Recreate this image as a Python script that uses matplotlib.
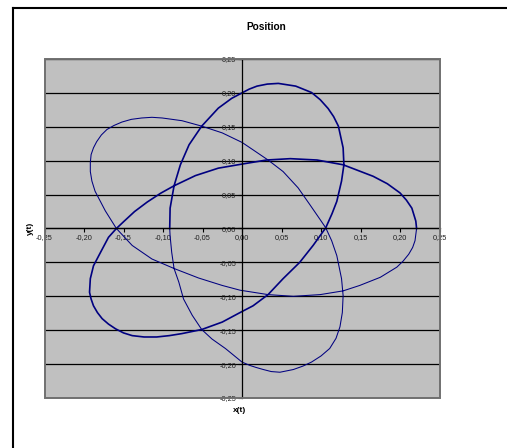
import matplotlib
matplotlib.use("Agg")
import matplotlib.pyplot as plt
from matplotlib.lines import Line2D
from matplotlib.patches import Rectangle
from matplotlib.ticker import FuncFormatter, MultipleLocator

plt.rcParams['font.family'] = ['Liberation Sans', 'DejaVu Sans']

# trajectory, first half (drawn heavier)
x_a = [-0.0915, -0.091, -0.086, -0.078, -0.067, -0.051, -0.030, -0.013, 0.000, 0.009,
       0.019, 0.032, 0.046, 0.068, 0.088, 0.099, 0.109, 0.116, 0.122, 0.128,
       0.129, 0.126, 0.120, 0.114, 0.106, 0.098, 0.090, 0.073, 0.052, 0.033,
       0.014, -0.0025, -0.025, -0.051, -0.076, -0.092, -0.108, -0.124, -0.139, -0.150,
       -0.160, -0.169, -0.177, -0.183, -0.188, -0.191, -0.193, -0.192, -0.188, -0.179,
       -0.169, -0.159, -0.149, -0.136, -0.120, -0.103, -0.086, -0.059, -0.030, 0.000,
       0.031, 0.061, 0.095, 0.128, 0.166, 0.184, 0.200, 0.208, 0.215, 0.220,
       0.221]
y_a = [0.000, 0.030, 0.063, 0.094, 0.1235, 0.151, 0.1775, 0.192, 0.200, 0.2055,
       0.210, 0.213, 0.214, 0.210, 0.2006, 0.190, 0.177, 0.165, 0.151, 0.119,
       0.094, 0.070, 0.040, 0.022, 0.001, -0.012, -0.025, -0.050, -0.074, -0.0975,
       -0.114, -0.124, -0.138, -0.149, -0.155, -0.158, -0.160, -0.160, -0.158, -0.154,
       -0.148, -0.141, -0.133, -0.124, -0.114, -0.104, -0.094, -0.074, -0.055, -0.035,
       -0.013, 0.000, 0.011, 0.025, 0.039, 0.052, 0.063, 0.078, 0.089, 0.095,
       0.101, 0.103, 0.101, 0.094, 0.077, 0.066, 0.0525, 0.042, 0.030, 0.011,
       0.000]

# second half (thin line)
x_b = [0.221, 0.219, 0.216, 0.211, 0.204, 0.196, 0.175, 0.149, 0.128, 0.099,
       0.065, 0.033, -0.0025, -0.025, -0.055, -0.086, -0.114, -0.139, -0.159, -0.173,
       -0.186, -0.190, -0.192, -0.192, -0.191, -0.188, -0.184, -0.178, -0.171, -0.162,
       -0.152, -0.140, -0.127, -0.114, -0.101, -0.076, -0.051, -0.025, 0.000, 0.014,
       0.033, 0.052, 0.071, 0.086, 0.099, 0.106, 0.1135, 0.120, 0.126, 0.128,
       0.127, 0.124, 0.119, 0.111, 0.100, 0.088, 0.077, 0.065, 0.048, 0.037,
       0.027, 0.018, 0.010, 0.000, -0.021, -0.038, -0.051, -0.063, -0.074, -0.080,
       -0.086, -0.089, -0.091, -0.0915]
y_b = [0.000, -0.018, -0.028, -0.038, -0.048, -0.057, -0.072, -0.084, -0.092, -0.0975,
       -0.100, -0.0975, -0.091, -0.084, -0.073, -0.059, -0.045, -0.025, 0.000, 0.026,
       0.055, 0.070, 0.084, 0.097, 0.109, 0.119, 0.128, 0.138, 0.146, 0.152,
       0.157, 0.161, 0.163, 0.164, 0.163, 0.159, 0.151, 0.141, 0.127, 0.116,
       0.101, 0.084, 0.060, 0.035, 0.013, 0.001, -0.018, -0.040, -0.074, -0.099,
       -0.124, -0.145, -0.162, -0.177, -0.188, -0.197, -0.203, -0.208, -0.212, -0.211,
       -0.208, -0.205, -0.202, -0.197, -0.177, -0.163, -0.149, -0.128, -0.104, -0.079,
       -0.059, -0.035, -0.011, 0.000]

W, H = 507, 448
fig = plt.figure(figsize=(W / 100, H / 100), dpi=100)

# chart area border (only top and left edges are inside the picture)
fig.add_artist(Line2D([13 / W, 1.0], [1 - 8 / H, 1 - 8 / H], color='black', lw=1.5))
fig.add_artist(Line2D([13 / W, 13 / W], [1 - 8 / H, 0.0], color='black', lw=1.5))

ax = fig.add_axes([44.5 / W, 1 - 398 / H, 395 / W, 339 / H])
ax.set_facecolor('#c0c0c0')
ax.set_xlim(-0.25, 0.25)
ax.set_ylim(-0.25, 0.25)

ax.xaxis.set_major_locator(MultipleLocator(0.05))
ax.yaxis.set_major_locator(MultipleLocator(0.05))
fmt = FuncFormatter(lambda v, p: f"{v:.2f}".replace('.', ',').replace('-0,00', '0,00'))
ax.xaxis.set_major_formatter(fmt)
ax.yaxis.set_major_formatter(fmt)

ax.yaxis.grid(True, color='black', lw=0.9)
ax.set_axisbelow(True)

for s in ('top', 'right'):
    ax.spines[s].set_visible(False)
ax.spines['left'].set_position(('data', 0))
ax.spines['bottom'].set_position(('data', 0))
ax.spines['left'].set_linewidth(0.9)
ax.spines['bottom'].set_linewidth(0.9)
ax.tick_params(direction='out', length=3, width=0.8, labelsize=5.3,
               labelcolor='#202020', pad=1)

ax.add_patch(Rectangle((0, 0), 1, 1, transform=ax.transAxes, fill=False,
                       edgecolor='#707070', lw=1.4, zorder=5, clip_on=False))

ax.plot(x_a, y_a, color='#000080', lw=1.2, solid_joinstyle='round')
ax.plot(x_b, y_b, color='#000080', lw=0.75, solid_joinstyle='round')

fig.text(266 / W, 1 - 27 / H, 'Position', ha='center', va='center',
         fontsize=7.3, fontweight='bold')
fig.text(240 / W, 1 - 410 / H, 'x(t)', ha='center', va='center',
         fontsize=6, fontweight='bold')
fig.text(30 / W, 1 - 228 / H, 'y(t)', ha='center', va='center',
         fontsize=6, fontweight='bold', rotation=90)

fig.savefig('out.png', dpi=100)
